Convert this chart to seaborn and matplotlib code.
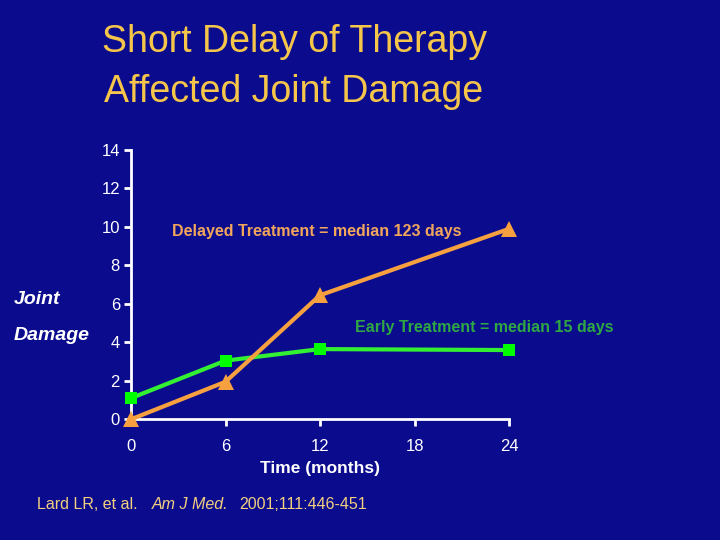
import pandas as pd
import numpy as np
import matplotlib
matplotlib.use("Agg")
import matplotlib.pyplot as plt
import seaborn as sns

# values
months = [0, 6, 12, 24]
delayed = [0.0, 1.95, 6.45, 9.9]
early = [1.1, 3.05, 3.65, 3.6]
x_ticks = [0, 6, 12, 18, 24]
y_ticks = [0, 2, 4, 6, 8, 10, 12, 14]

bg = "#0b0b8e"
gold = "#f6c64a"
orange = "#f7a040"
green = "#33f033"

df = pd.DataFrame({
    "Time": months + months,
    "Damage": delayed + early,
    "Group": ["Delayed"] * 4 + ["Early"] * 4,
})

sns.set_theme(style="white")
plt.rcParams["font.family"] = ["Liberation Sans", "DejaVu Sans"]

fig = plt.figure(figsize=(7.2, 5.4), dpi=100, facecolor=bg)
ax = fig.add_axes([131 / 720, 1 - 419.3 / 540, 378 / 720, 269.3 / 540])
ax.set_facecolor(bg)

sns.lineplot(data=df, x="Time", y="Damage", hue="Group", style="Group",
             palette={"Delayed": orange, "Early": green},
             markers={"Delayed": "^", "Early": "s"}, dashes=False,
             linewidth=3, markeredgewidth=0, legend=False, ax=ax)
for ln in ax.lines:
    if ln.get_marker() == "^":
        ln.set_markersize(11)
        ln.set_zorder(4)
    else:
        ln.set_markersize(8)
        ln.set_markerfacecolor("#00ff00")
        ln.set_zorder(3)
    ln.set_clip_on(False)

ax.set_xlim(0, 24)
ax.set_ylim(0, 14)
ax.set_xticks(x_ticks)
ax.set_yticks(y_ticks)
for s in ["top", "right"]:
    ax.spines[s].set_visible(False)
for s in ["left", "bottom"]:
    ax.spines[s].set_color("white")
    ax.spines[s].set_linewidth(2)
ax.tick_params(axis="x", colors="white", length=5, width=2, pad=9, labelsize=12, direction="out", bottom=True)
ax.tick_params(axis="y", colors="white", length=5, width=2, pad=3, labelsize=12, direction="out", left=True)
ax.set_xlabel("Time (months)", color="white", fontsize=12.5, fontweight="bold", labelpad=5)
ax.set_ylabel("")

ax.text(2.62, 9.54, "Delayed Treatment = median 123 days", color="#f2a65c",
        fontsize=11.5, fontweight="bold", ha="left", va="baseline")
ax.text(14.23, 4.55, "Early Treatment = median 15 days", color="#2fa844",
        fontsize=11.5, fontweight="bold", ha="left", va="baseline", clip_on=False)

fig.text(294 / 720, 1 - 52 / 540, "Short Delay of Therapy", color=gold, fontsize=27, ha="center", va="baseline")
fig.text(294 / 720, 1 - 102 / 540, "Affected Joint Damage", color=gold, fontsize=27, ha="center", va="baseline")

fig.text(14 / 720, 1 - 304 / 540, "Joint", color="white", fontsize=14, fontweight="bold", style="italic", va="baseline")
fig.text(14 / 720, 1 - 340 / 540, "Damage", color="white", fontsize=14, fontweight="bold", style="italic", va="baseline")

cite_y = 1 - 509 / 540
cite_col = "#f3cf80"
fig.text(37 / 720, cite_y, "Lard LR, et al.", color=cite_col, fontsize=11.5, va="baseline")
fig.text(152 / 720, cite_y, "Am J Med.", color=cite_col, fontsize=11.5, style="italic", va="baseline")
fig.text(239 / 720, cite_y, "2001;111:446-451", color=cite_col, fontsize=11.5, va="baseline")

fig.savefig("out.png", dpi=100, facecolor=bg)
